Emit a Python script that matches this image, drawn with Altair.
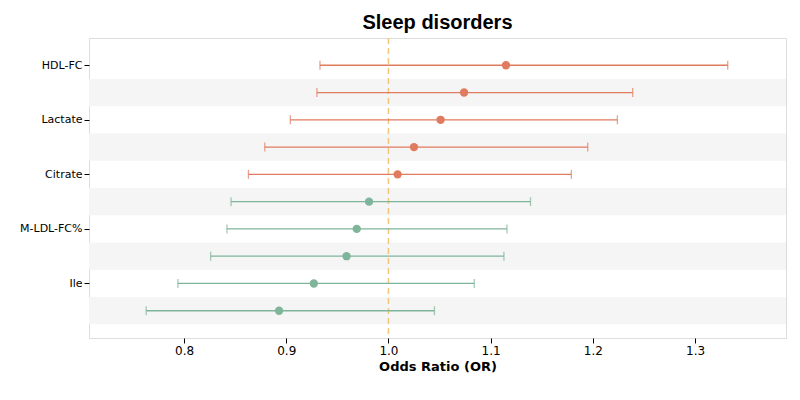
import altair as alt
import pandas as pd

names = ["HDL-FC","Pyruvate","Lactate","M-LDL-PL%","Citrate","Gln","M-LDL-FC%","His","Ile","Phe"]
orv = [1.115,1.074,1.051,1.025,1.009,0.981,0.969,0.959,0.927,0.893]
lo = [0.933,0.930,0.904,0.879,0.863,0.846,0.842,0.826,0.794,0.763]
hi = [1.332,1.239,1.224,1.195,1.179,1.139,1.116,1.113,1.084,1.045]

df = pd.DataFrame({"name": names, "idx": list(range(len(names))), "or": orv, "lo": lo, "hi": hi})
df["dir"] = ["up" if v >= 1 else "down" for v in orv]
bands = pd.DataFrame({"y0": [i - 0.5 for i in range(1, 10, 2)], "y1": [i + 0.5 for i in range(1, 10, 2)]})

W, H = 697, 300
xs = alt.Scale(domain=[0.707, 1.389], nice=False, zero=False)
ys = alt.Scale(domain=[-1, 10], reverse=True, nice=False, zero=False)
col = alt.Color("dir:N", scale=alt.Scale(domain=["up","down"], range=["#E07B5F","#7FB59A"]), legend=None)
labexpr = "[" + ",".join(f"'{n}'" for n in names) + "][datum.value]"

band = alt.Chart(bands).mark_rect(color="#f5f5f5").encode(
    x=alt.value(0), x2=alt.value(W),
    y=alt.Y("y0:Q", scale=ys), y2="y1:Q")
base = alt.Chart(df)
rule = base.mark_rule(strokeWidth=1.3).encode(
    x=alt.X("lo:Q", scale=xs, title="Odds Ratio (OR)",
            axis=alt.Axis(values=[0.8,0.9,1.0,1.1,1.2,1.3], format=".1f", grid=False,
                          titleFontWeight="bold", titleFontSize=13, labelFontSize=12,
                          domain=False, tickColor="black", labelColor="black", titleColor="black")),
    x2="hi:Q",
    y=alt.Y("idx:Q", scale=ys, title=None,
            axis=alt.Axis(values=list(range(10)), labelExpr=labexpr, grid=False, domain=False,
                          labelOverlap=False, labelFontSize=11, tickColor="black", labelColor="black")),
    color=col)
capl = base.mark_tick(thickness=1.3, size=9, orient="vertical").encode(x=alt.X("lo:Q", scale=xs), y=alt.Y("idx:Q", scale=ys), color=col)
caph = base.mark_tick(thickness=1.3, size=9, orient="vertical").encode(x=alt.X("hi:Q", scale=xs), y=alt.Y("idx:Q", scale=ys), color=col)
pts = base.mark_circle(size=70, opacity=1).encode(x=alt.X("or:Q", scale=xs), y=alt.Y("idx:Q", scale=ys), color=col)
ref = alt.Chart(pd.DataFrame({"v": [1.0]})).mark_rule(color="#F2C57C", strokeDash=[6,4], strokeWidth=1.5).encode(x=alt.X("v:Q", scale=xs))

chart = alt.layer(band, ref, rule, capl, caph, pts).properties(
    width=W, height=H, padding={"left": 11, "top": 5, "right": 5, "bottom": 5},
    title=alt.TitleParams("Sleep disorders", fontSize=20, fontWeight="bold", color="black", font="Liberation Sans")
).configure_view(stroke="black", strokeWidth=1).configure(font="DejaVu Sans")

chart.save("out.html", embed_options={"renderer": "svg", "actions": False})
